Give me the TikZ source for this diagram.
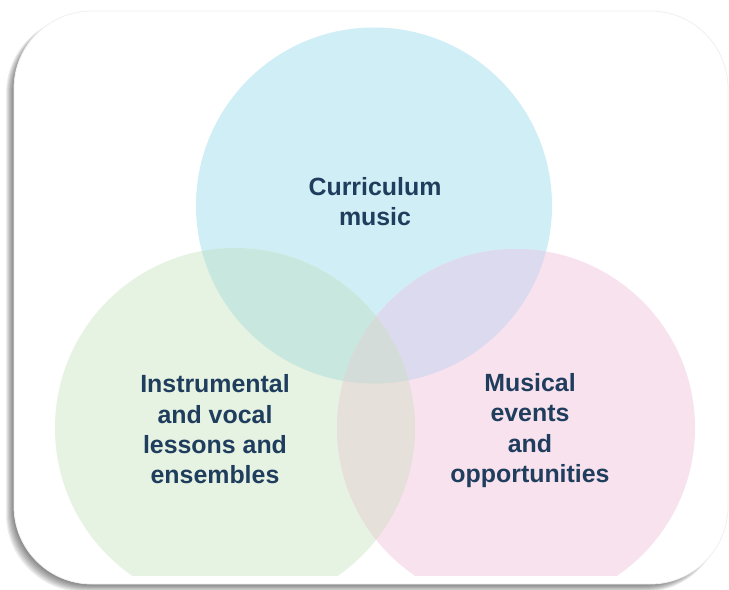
\documentclass[tikz,border=0pt]{standalone}
\usepackage{fontspec}
\setmainfont{Liberation Sans}
\definecolor{cblue}{HTML}{D0EEF6}
\definecolor{cgreen}{HTML}{E6F2E2}
\definecolor{cpink}{HTML}{F8E2EE}
\definecolor{cbg}{HTML}{C8E8DF}
\definecolor{cbp}{HTML}{DCDAEE}
\definecolor{cgp}{HTML}{E5E0DA}
\definecolor{cbgp}{HTML}{D3DCD8}
\definecolor{navy}{HTML}{1F3D5C}
\begin{document}
\begin{tikzpicture}[x=1bp,y=-1bp,
  lbl/.style={font=\fontsize{25}{30.5}\selectfont\bfseries, text=navy, align=center, inner sep=0pt}]
\useasboundingbox (0,0) rectangle (729,590);
\fill[white] (0,0) rectangle (729,590);
% shadow
\foreach \k in {1,...,8}{
  \fill[black,opacity=0.07,rounded corners=78] (14-\k,16) rectangle (722,584+\k);
}
% card
\fill[white,rounded corners=78] (14,11) rectangle (728,584);
\draw[black!6,line width=0.8bp,rounded corners=78] (14,11) rectangle (728,584);
% circles
\def\B{(374,205.5) circle[radius=178]}
\def\G{(235,428) circle[radius=180]}
\def\P{(516,428) circle[radius=179]}
\begin{scope}
  \clip (0,0) rectangle (729,575);
  \fill[cblue] \B;
  \fill[cgreen] \G;
  \fill[cpink] \P;
  \begin{scope}\clip \B; \fill[cbg] \G; \end{scope}
  \begin{scope}\clip \B; \fill[cbp] \P; \end{scope}
  \begin{scope}\clip \G; \fill[cgp] \P; \end{scope}
  \begin{scope}\clip \B; \clip \G; \fill[cbgp] \P; \end{scope}
\end{scope}
% labels
\node[lbl] (curr) at (375,201.5) {Curriculum\\music};
\node[lbl] (instr) at (215,429.5) {Instrumental\\and vocal\\lessons and\\ensembles};
\node[lbl] (events) at (530,430.5) {Musical\\events\\and\\opportunities};
\end{tikzpicture}
\end{document}
